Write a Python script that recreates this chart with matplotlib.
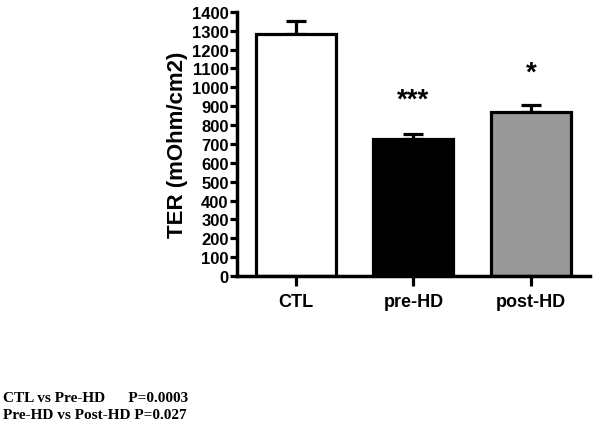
import matplotlib
matplotlib.use("Agg")
import matplotlib.pyplot as plt

categories = ["CTL", "pre-HD", "post-HD"]
means = [1285, 725, 868]
sem = [65, 30, 37]
colors = ["white", "black", "#999999"]
stars = ["", "***", "*"]
star_y = [0, 935, 1080]
yticks = list(range(0, 1500, 100))
notes = ["CTL vs Pre-HD      P=0.0003", "Pre-HD vs Post-HD P=0.027"]

fig = plt.figure(figsize=(6, 4.27), dpi=100)
ax = fig.add_axes([0.395, 0.351, 0.588, 0.619])
x = list(range(len(categories)))
ax.bar(x, means, width=0.68, color=colors, edgecolor="black", linewidth=2.3, zorder=2)
ax.errorbar(x, means, yerr=[[0] * len(sem), sem], fmt="none", ecolor="black",
            elinewidth=2.3, capsize=7.5, capthick=2.3, zorder=1)
for xi, s, sy in zip(x, stars, star_y):
    if s:
        ax.text(xi, sy, s, ha="center", va="center", fontsize=20, fontweight="bold",
                family="Liberation Sans")
ax.set_xlim(-0.5, 2.5)
ax.set_ylim(0, 1400)
ax.set_yticks(yticks)
ax.set_yticklabels([str(t) for t in yticks], fontsize=12, fontweight="bold",
                   family="Liberation Sans")
ax.set_xticks(x)
ax.set_xticklabels(categories, fontsize=13, fontweight="bold", family="Liberation Sans")
ax.tick_params(axis="y", length=5, width=2.3, pad=1)
ax.tick_params(axis="x", length=7, width=2.3, pad=5)
for sp in ["top", "right"]:
    ax.spines[sp].set_visible(False)
for sp in ["left", "bottom"]:
    ax.spines[sp].set_linewidth(2.5)
ax.set_ylabel("TER (mOhm/cm2)", fontsize=16, fontweight="bold", family="Liberation Sans",
              labelpad=3)

fig.text(0.005, 1 - 399 / 427, notes[0], fontsize=11, fontweight="bold",
         family="Liberation Serif", va="center")
fig.text(0.005, 1 - 416 / 427, notes[1], fontsize=11, fontweight="bold",
         family="Liberation Serif", va="center")

fig.savefig("out.png", dpi=100)
